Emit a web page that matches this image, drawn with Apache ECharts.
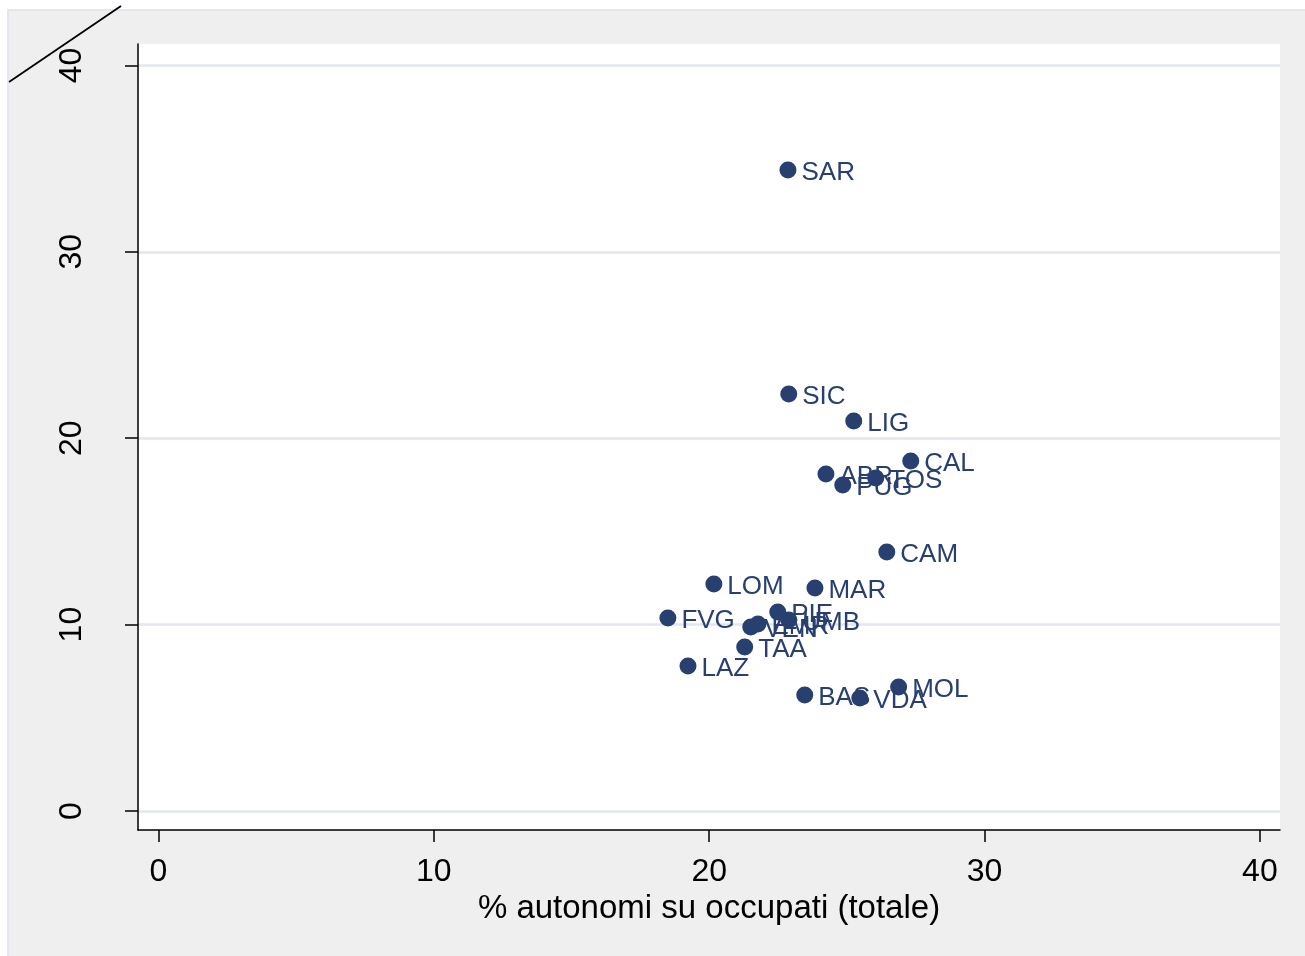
<!DOCTYPE html>
<html><head><meta charset="utf-8">
<script src="https://cdn.jsdelivr.net/npm/echarts@6/dist/echarts.min.js"></script>
<style>html,body{margin:0;padding:0;background:#fff}#c{width:1305px;height:956px}</style>
</head><body><div id="c"></div>
<script>
const regions = ['SAR','SIC','LIG','CAL','ABR','TOS','PUG','CAM','LOM','MAR','FVG','PIE','VEN','EMR','UMB','TAA','LAZ','BAS','VDA','MOL'];
const autonomi = [22.86,22.89,25.25,27.32,24.24,26.05,24.85,26.45,20.17,23.84,18.50,22.49,21.51,21.77,22.89,21.29,19.23,23.47,25.47,26.88];
const yValues = [34.39,22.37,20.92,18.78,18.08,17.86,17.49,13.89,12.18,11.96,10.35,10.68,9.87,10.03,10.25,8.80,7.78,6.22,6.06,6.65];
const tickValues = [0,10,20,30,40];
const xTitle = '% autonomi su occupati (totale)';

const navy = '#27406f';
const chart = echarts.init(document.getElementById('c'), null, {renderer:'canvas'});
chart.setOption({
  backgroundColor: '#ffffff',
  animation: false,
  graphic: [
    {type:'rect', z:-10, shape:{x:8,y:10,width:1310,height:950}, style:{fill:'#efefef', stroke:'#e1e6ef', lineWidth:2}},
    {type:'line', z:100, shape:{x1:9,y1:82,x2:121,y2:6}, style:{stroke:'#000', lineWidth:1.8}}
  ],
  grid: {left:138, right:25, top:44, bottom:126, show:true, backgroundColor:'#ffffff', borderWidth:0, containLabel:false},
  xAxis: {
    type:'value', min:-0.744, max:40.73,
    name: xTitle, nameLocation:'middle', nameGap:54,
    nameTextStyle:{fontFamily:'Liberation Sans, Arial', fontSize:33, color:'#000'},
    axisLine:{show:true, onZero:false, lineStyle:{color:'#000', width:1.5}},
    axisTick:{show:true, length:12, customValues:tickValues, lineStyle:{color:'#000', width:1.5}},
    axisLabel:{customValues:tickValues, margin:26, fontFamily:'Liberation Sans, Arial', fontSize:32, color:'#000'},
    splitLine:{show:false}
  },
  yAxis: {
    type:'value', min:-1.02, max:41.15,
    axisLine:{show:true, onZero:false, lineStyle:{color:'#000', width:1.5}},
    axisTick:{show:true, length:13, customValues:tickValues, lineStyle:{color:'#000', width:1.5}},
    axisLabel:{customValues:tickValues, rotate:90, margin:50, fontFamily:'Liberation Sans, Arial', fontSize:32, color:'#000'},
    splitLine:{show:true, lineStyle:{color:'#e1e6f0', width:2.5}}
  },
  series: [{
    type:'scatter',
    symbol:'circle', symbolSize:17,
    itemStyle:{color:navy, opacity:1},
    data: regions.map((r,i)=>({name:r, value:[autonomi[i], yValues[i]]})),
    label:{show:true, position:'right', distance:5, offset:[0,3], formatter:p=>p.name,
      fontFamily:'Liberation Sans, Arial', fontSize:26, color:navy}
  }]
});
</script></body></html>
